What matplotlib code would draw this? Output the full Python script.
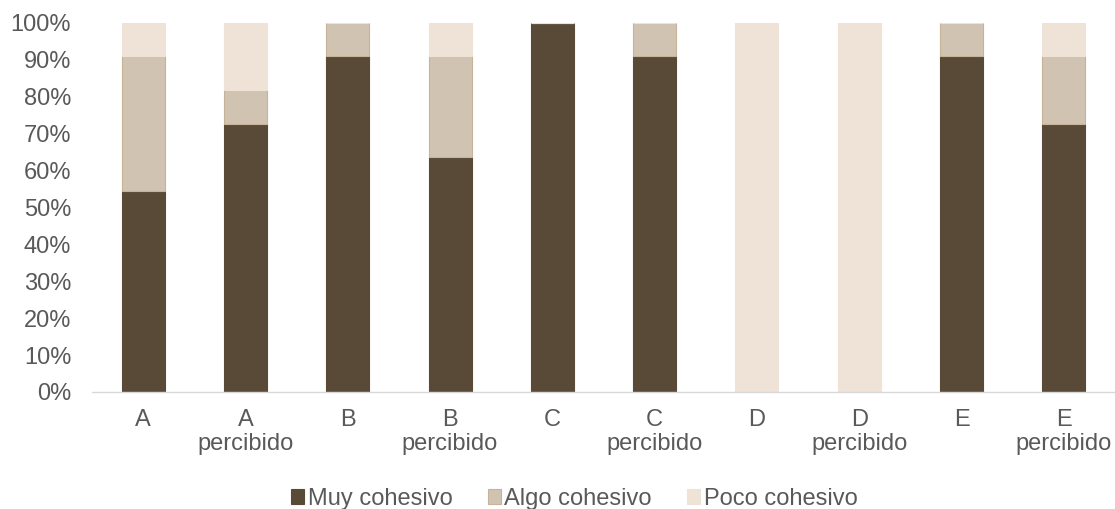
import matplotlib
matplotlib.use("Agg")

import matplotlib.pyplot as plt
import numpy as np

plt.rcParams["font.family"] = ["Liberation Sans", "DejaVu Sans"]

categories = ["A", "A\npercibido", "B", "B\npercibido", "C", "C\npercibido",
              "D", "D\npercibido", "E", "E\npercibido"]
series_names = ["Muy cohesivo", "Algo cohesivo", "Poco cohesivo"]

# share of respondents (%), groups of 11
muy = [54.5, 72.7, 90.9, 63.6, 100.0, 90.9, 0.0, 0.0, 90.9, 72.7]
algo = [36.4, 9.1, 9.1, 27.3, 0.0, 9.1, 0.0, 0.0, 9.1, 18.2]
poco = [9.1, 18.2, 0.0, 9.1, 0.0, 0.0, 100.0, 100.0, 0.0, 9.1]

colors = ["#594A38", "#D0C3B2", "#EEE3D6"]
edges = ["#594A38", "#C6B398", "#EEE3D6"]

fig = plt.figure(figsize=(11.15, 5.09), dpi=100)
ax = fig.add_axes([0.0825, 0.23, 0.9175, 0.725])

x = np.arange(len(categories))
bottom = np.zeros(len(categories))
for vals, name, c, ec in zip([muy, algo, poco], series_names, colors, edges):
    vals = np.array(vals)
    ax.bar(x, vals, 0.42, bottom=bottom, color=c, edgecolor=ec,
           linewidth=0.8, label=name, zorder=2)
    bottom += vals

ax.set_xlim(-0.5, len(categories) - 0.5)
ax.set_ylim(0, 100)
ax.set_yticks(np.arange(0, 101, 10))
ax.set_yticklabels([f"{v}%" for v in range(0, 101, 10)])
ax.set_xticks(x)
ax.set_xticklabels(categories, linespacing=1.15)

for side in ["top", "right", "left"]:
    ax.spines[side].set_visible(False)
ax.spines["bottom"].set_color("#D9D9D9")
ax.spines["bottom"].set_linewidth(1.0)
ax.tick_params(axis="both", length=0, labelsize=17, colors="#595959")
ax.tick_params(axis="x", pad=12)
ax.tick_params(axis="y", pad=15)

fig.legend(*ax.get_legend_handles_labels(), loc="center",
           bbox_to_anchor=(0.515, 0.02), ncol=3,
           frameon=False, fontsize=17, labelcolor="#595959",
           handlelength=0.55, handleheight=0.55, handletextpad=0.15,
           columnspacing=1.5)

fig.savefig("out.png", dpi=100)
